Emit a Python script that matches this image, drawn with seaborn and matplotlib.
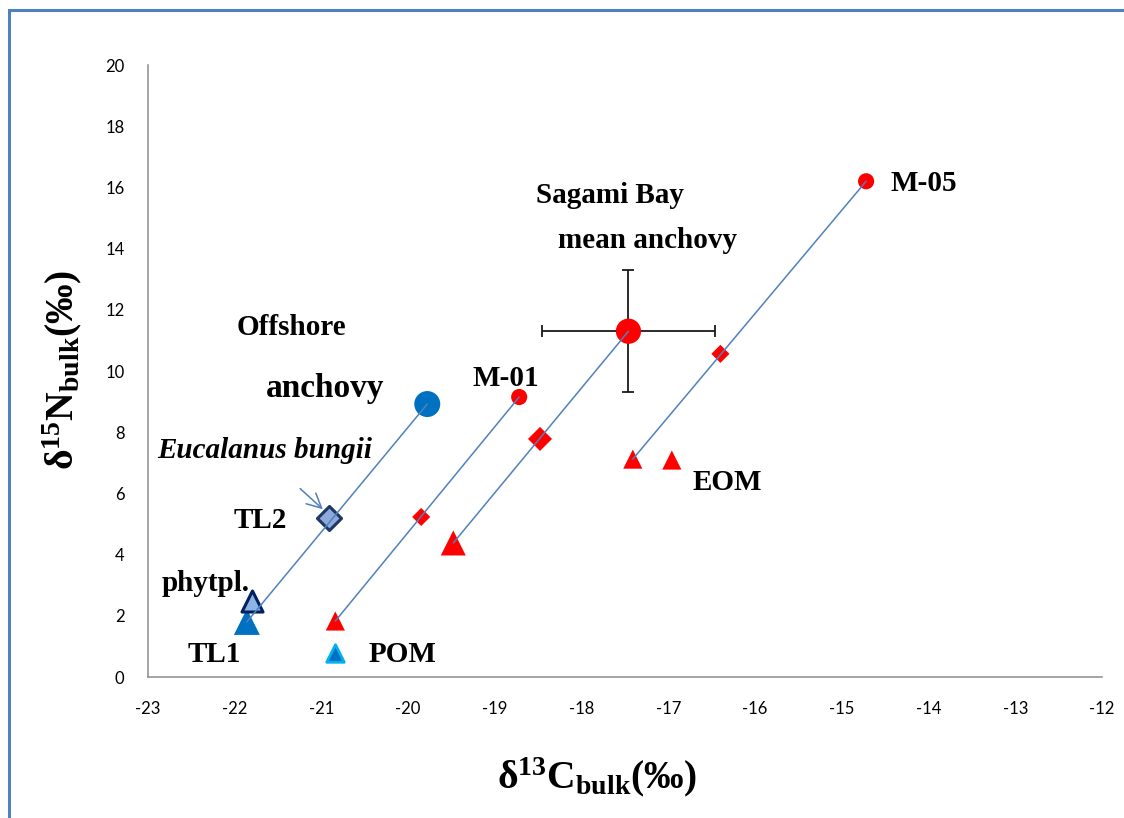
import matplotlib
matplotlib.use("Agg")
import matplotlib.pyplot as plt
from matplotlib.patches import Rectangle
import pandas as pd
import seaborn as sns

# --- data: d13C (x) and d15N (y), per-mil ---
tl1_x, tl1_y = [-21.86], [1.80]
phyto_x, phyto_y = [-21.80], [2.50]
bungii_x, bungii_y = [-20.91], [5.20]
offshore_x, offshore_y = [-19.78], [8.92]
pom_x, pom_y = [-20.84], [0.78]

# coastal stations: POM-like base (triangle), zooplankton (diamond), anchovy (circle)
m01_x, m01_y = [-20.84, -19.85, -18.72], [1.83, 5.23, 9.15]
sagami_x, sagami_y = [-19.48, -18.48, -17.46], [4.38, 7.78, 11.30]
sagami_xerr, sagami_yerr = 1.0, 2.0
m05_x, m05_y = [-17.41, -16.40, -14.72], [7.12, 10.56, 16.20]
eom_x, eom_y = [-16.96], [7.09]

x_ticks = list(range(-23, -11))
y_ticks = list(range(0, 21, 2))

sns.set_style("white")
plt.rcParams["font.family"] = ["Lato", "DejaVu Sans"]
plt.rcParams["text.color"] = "black"
plt.rcParams["axes.labelcolor"] = "black"
plt.rcParams["mathtext.fontset"] = "custom"
plt.rcParams["mathtext.rm"] = "Liberation Serif:bold"
plt.rcParams["mathtext.bf"] = "Liberation Serif:bold"
plt.rcParams["mathtext.it"] = "Liberation Serif:bold"

RED = "#FF0000"
BLUE = "#0070C0"
LINE = "#4F81BD"
SERIF = "Liberation Serif"

fig = plt.figure(figsize=(11.24, 8.18), dpi=100)
ax = fig.add_axes([148 / 1124, 1 - 677 / 818, (1102 - 148) / 1124, (677 - 65) / 818])

def pts(xs, ys, marker, s, color, ec="none", lw=0):
    sns.scatterplot(x=xs, y=ys, marker=marker, s=s, color=color,
                    edgecolor=ec, linewidth=lw, ax=ax, zorder=3, legend=False)

# offshore food web
pts(tl1_x, tl1_y, "^", 350, BLUE)
pts(phyto_x, phyto_y, "^", 230, "#8DB4E2", "#002060", 2.2)
pts(bungii_x, bungii_y, "D", 150, "#8EA9DB", "#1F3864", 2.2)
pts(offshore_x, offshore_y, "o", 350, BLUE)
pts(pom_x, pom_y, "^", 160, BLUE, "#00B0F0", 2.0)

# coastal stations
for xs, ys, big in [(m01_x, m01_y, False), (sagami_x, sagami_y, True), (m05_x, m05_y, False)]:
    pts(xs[:1], ys[:1], "^", 324 if big else 190, RED)
    pts(xs[1:2], ys[1:2], "D", 150 if big else 85, RED)
    pts(xs[2:], ys[2:], "o", 330 if big else 135, RED)
pts(eom_x, eom_y, "^", 190, RED)

ax.errorbar(sagami_x[2:], sagami_y[2:], xerr=sagami_xerr, yerr=sagami_yerr,
            fmt="none", ecolor="#1a1a1a", elinewidth=1.3, capsize=4.5,
            capthick=1.3, zorder=2)

# trophic lines from base to top predator
for xs, ys in [([tl1_x[0], offshore_x[0]], [tl1_y[0], offshore_y[0]]),
               ([m01_x[0], m01_x[2]], [m01_y[0], m01_y[2]]),
               ([sagami_x[0], sagami_x[2]], [sagami_y[0], sagami_y[2]]),
               ([m05_x[0], m05_x[2]], [m05_y[0], m05_y[2]])]:
    sns.lineplot(x=xs, y=ys, sort=False, estimator=None, color=LINE,
                 linewidth=1.1, ax=ax, zorder=4, legend=False)

ax.set_xlim(-23, -12)
ax.set_ylim(0, 20)
ax.set_xticks(x_ticks)
ax.set_yticks(y_ticks)
ax.set_xticklabels([str(v) for v in x_ticks])
ax.set_yticklabels([str(v) for v in y_ticks])
ax.tick_params(axis="both", length=0, labelsize=12, colors="#000000")
ax.tick_params(axis="x", pad=17)
ax.tick_params(axis="y", pad=17)
for side in ("top", "right"):
    ax.spines[side].set_visible(False)
for side in ("left", "bottom"):
    ax.spines[side].set_color("#8c8c8c")
    ax.spines[side].set_linewidth(1.1)

# annotations
def label(x, y, s, size=21, style="normal"):
    ax.text(x, y, s, fontsize=size, fontweight="bold", fontstyle=style,
            family=SERIF, color="black", ha="center", va="center", zorder=5)

label(-21.35, 11.41, "Offshore")
label(-20.96, 9.44, "anchovy", size=24)
label(-21.65, 7.39, "Eucalanus bungii", style="italic")
label(-21.71, 5.13, "TL2")
label(-22.33, 3.07, "phytpl.")
label(-22.24, 0.72, "TL1")
label(-20.06, 0.75, "POM")
label(-18.88, 9.77, "M-01")
label(-17.67, 15.72, "Sagami Bay")
label(-17.24, 14.28, "mean anchovy")
label(-14.06, 16.14, "M-05")
label(-16.32, 6.34, "EOM")

ax.annotate("", xy=(-20.96, 5.42), xytext=(-21.27, 6.22),
            arrowprops=dict(arrowstyle="->", color=LINE, lw=1.1,
                            mutation_scale=26), zorder=5)

fig.text(62 / 1124, 1 - 370 / 818, r"$\mathbf{δ^{15}N_{bulk}(‰)}$",
         rotation=90, ha="center", va="center", fontsize=28.5, color="black")
fig.text(597 / 1124, 1 - 777 / 818, r"$\mathbf{δ^{13}C_{bulk}(‰)}$",
         ha="center", va="center", fontsize=28.5, color="black")

# outer chart frame
fig.patches.append(Rectangle((8.5 / 1124, -0.2), 1.2, 1.2 - 9.5 / 818,
                             transform=fig.transFigure, fill=False,
                             edgecolor=LINE, linewidth=2.2, zorder=10))

fig.savefig("out.png", dpi=100)
